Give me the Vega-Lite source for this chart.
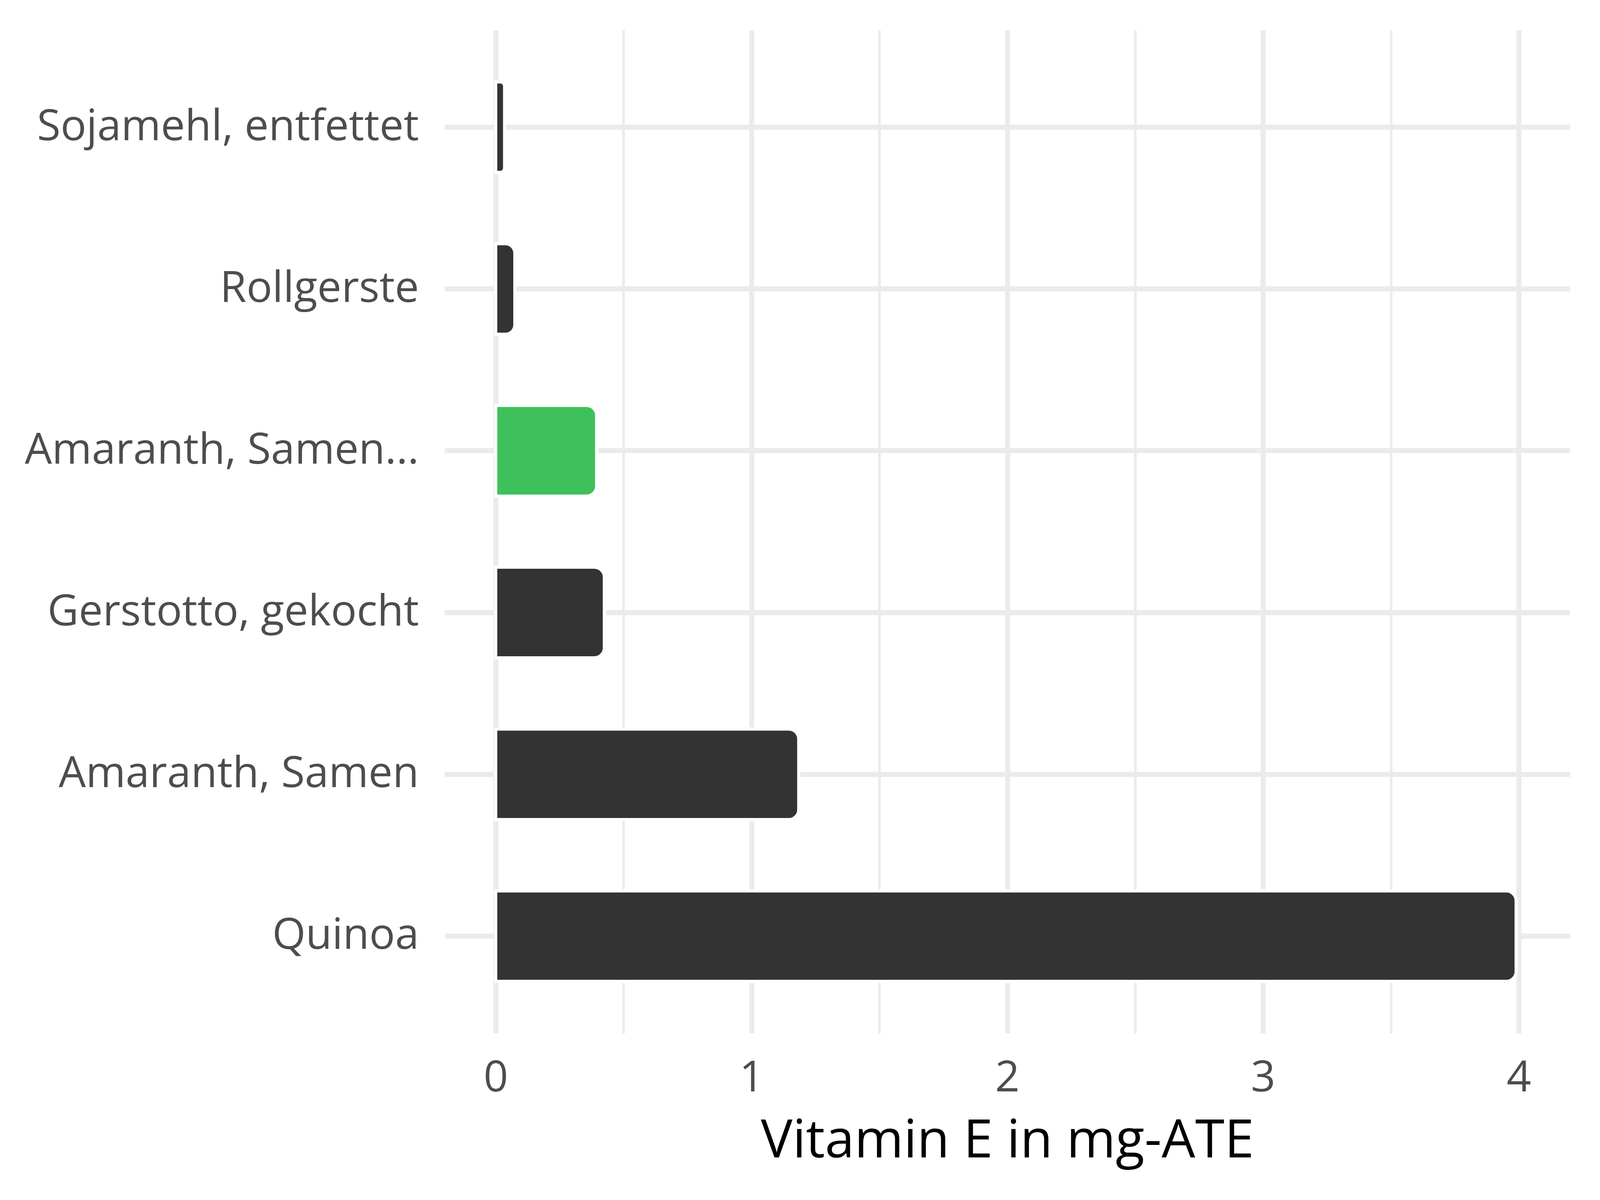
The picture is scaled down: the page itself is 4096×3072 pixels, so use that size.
{
  "$schema": "https://vega.github.io/schema/vega-lite/v6.json",
  "autosize": {"type": "none"},
  "padding": {"left": 1138, "top": 77, "right": 77, "bottom": 427},
  "width": 2881,
  "height": 2568,
  "background": "white",
  "config": {"view": {"stroke": null}},
  "data": {
    "values": [
      {"name": "Sojamehl, entfettet", "value": 0.035, "highlight": "no"},
      {"name": "Rollgerste", "value": 0.075, "highlight": "no"},
      {"name": "Amaranth, Samen...", "value": 0.395, "highlight": "yes"},
      {"name": "Gerstotto, gekocht", "value": 0.425, "highlight": "no"},
      {"name": "Amaranth, Samen", "value": 1.185, "highlight": "no"},
      {"name": "Quinoa", "value": 3.99, "highlight": "no"}
    ]
  },
  "mark": {"type": "bar", "cornerRadiusEnd": 26, "stroke": "white", "strokeWidth": 8},
  "encoding": {
    "y": {
      "field": "name", "type": "nominal",
      "sort": ["Sojamehl, entfettet", "Rollgerste", "Amaranth, Samen...", "Gerstotto, gekocht", "Amaranth, Samen", "Quinoa"],
      "scale": {"paddingInner": 0.44, "paddingOuter": 0.32},
      "axis": {
        "title": null, "domain": false, "ticks": false,
        "grid": true, "gridColor": "#EBEBEB", "gridWidth": 12.8,
        "labelFont": "Open Sans", "labelFontSize": 110, "labelFontWeight": "normal", "labelColor": "#4D4D4D",
        "labelPadding": 66, "labelLimit": 2000
      }
    },
    "x": {
      "field": "value", "type": "quantitative",
      "scale": {"domain": [-0.2, 4.2], "nice": false, "zero": false},
      "axis": {
        "title": "Vitamin E in mg-ATE",
        "values": [0, 0.5, 1, 1.5, 2, 2.5, 3, 3.5, 4],
        "labelExpr": "datum.value % 1 === 0 ? format(datum.value, 'd') : ''",
        "domain": false, "ticks": false,
        "grid": true, "gridColor": "#EBEBEB",
        "gridWidth": {"condition": {"test": "datum.value % 1 === 0", "value": 12.8}, "value": 6.4},
        "labelFont": "Open Sans", "labelFontSize": 110, "labelFontWeight": "normal", "labelColor": "#4D4D4D",
        "labelPadding": 61, "labelFlush": false,
        "titleFont": "Open Sans", "titleFontSize": 136, "titleColor": "#000000",
        "titleFontWeight": "normal", "titlePadding": 40
      }
    },
    "color": {
      "field": "highlight", "type": "nominal",
      "scale": {"domain": ["no", "yes"], "range": ["#333333", "#3EC15A"]},
      "legend": null
    }
  }
}
